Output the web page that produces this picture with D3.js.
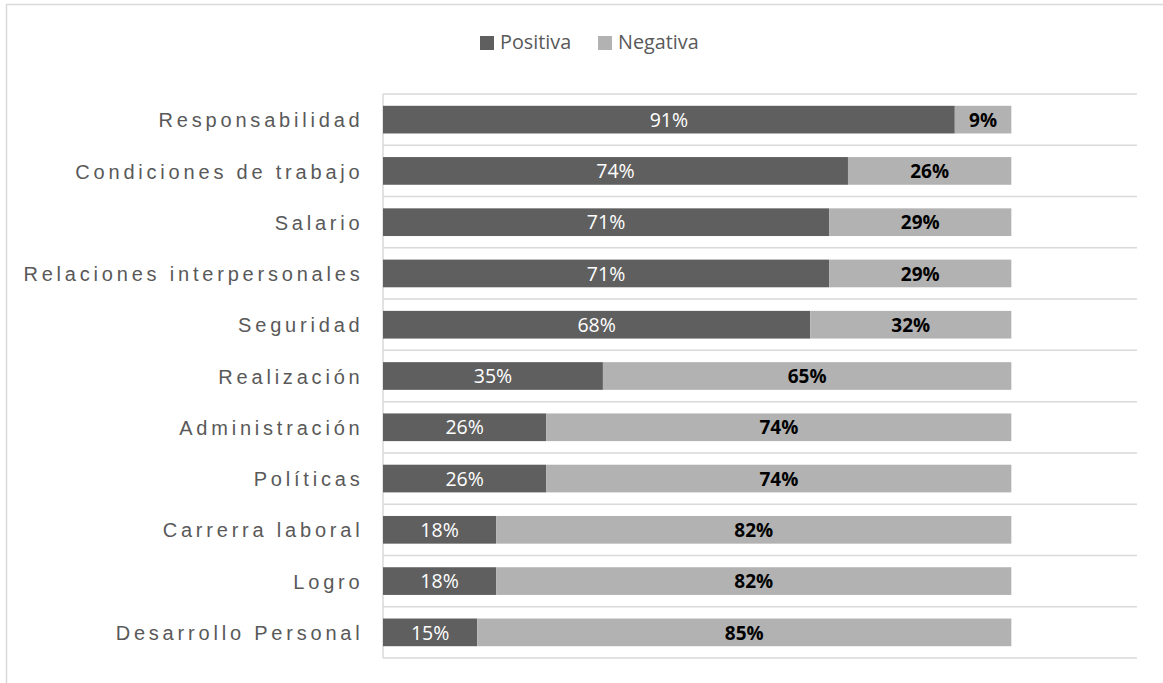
<!DOCTYPE html>
<html>
<head>
<meta charset="utf-8">
<script src="https://cdn.jsdelivr.net/npm/d3@7"></script>
<style>
  html, body { margin: 0; padding: 0; background: #fff; }
  svg { display: block; }
</style>
</head>
<body>
<svg id="chart" width="1163" height="683"></svg>
<script>
// Factores de motivación: percepción positiva vs. negativa
const categories = [
  "Responsabilidad",
  "Condiciones de trabajo",
  "Salario",
  "Relaciones interpersonales",
  "Seguridad",
  "Realización",
  "Administración",
  "Políticas",
  "Carrerra laboral",
  "Logro",
  "Desarrollo Personal"
];
const positiva = [91, 74, 71, 71, 68, 35, 26, 26, 18, 18, 15];
const negativa = [9, 26, 29, 29, 32, 65, 74, 74, 82, 82, 85];
const seriesNames = ["Positiva", "Negativa"];
const seriesColors = ["#5f5f5f", "#b2b2b2"];

const svg = d3.select("#chart");
const W = 1163, H = 683;

// outer chart frame
svg.append("rect")
  .attr("x", 6.5).attr("y", 4.5)
  .attr("width", W + 10).attr("height", H + 10)
  .attr("fill", "#fff").attr("stroke", "#d9d9d9").attr("stroke-width", 1.5);

const plot = { left: 383, right: 1137, top: 94, bottom: 658 };

const rows = categories.map((c, i) => ({ cat: c, Positiva: positiva[i] / 100, Negativa: negativa[i] / 100 }));
const stacked = d3.stack().keys(seriesNames)(rows);

const x = d3.scaleLinear().domain([0, 1.2]).range([plot.left, plot.right]);
const y = d3.scaleBand().domain(categories).range([plot.top, plot.bottom]).paddingInner(0.46).paddingOuter(0.23);
const color = d3.scaleOrdinal().domain(seriesNames).range(seriesColors);

// horizontal gridlines at category boundaries
const gridYs = d3.range(categories.length + 1).map(i => plot.top + i * (plot.bottom - plot.top) / categories.length);
svg.append("g").selectAll("line").data(gridYs).join("line")
  .attr("x1", plot.left).attr("x2", plot.right)
  .attr("y1", d => d).attr("y2", d => d)
  .attr("stroke", "#d9d9d9").attr("stroke-width", 1.5);

// category axis
const letterSpacing = 3.8;
const yAxis = svg.append("g")
  .attr("transform", `translate(${plot.left},0)`)
  .call(d3.axisLeft(y).tickSize(0).tickPadding(23.3 - letterSpacing));
yAxis.select(".domain").attr("stroke", "#d9d9d9").attr("stroke-width", 1.5)
  .attr("d", `M0,${plot.top}V${plot.bottom}`);
yAxis.selectAll("text")
  .attr("font-family", "'Liberation Sans', Arial, sans-serif")
  .attr("font-size", 20)
  .attr("letter-spacing", letterSpacing + "px")
  .attr("dy", "0.38em")
  .attr("fill", "#595959");

// stacked bars
const layers = svg.append("g").selectAll("g").data(stacked).join("g")
  .attr("fill", d => color(d.key));
layers.selectAll("rect").data(d => d).join("rect")
  .attr("x", d => x(d[0]))
  .attr("width", d => x(d[1]) - x(d[0]))
  .attr("y", d => y(d.data.cat))
  .attr("height", y.bandwidth());

// value labels
const labelFont = "'Open Sans', 'Noto Sans', sans-serif";
stacked.forEach((layer, li) => {
  svg.append("g").selectAll("text").data(layer).join("text")
    .attr("x", d => (x(d[0]) + x(d[1])) / 2)
    .attr("y", d => y(d.data.cat) + y.bandwidth() / 2 + 7.2)
    .attr("text-anchor", "middle")
    .attr("font-family", labelFont)
    .attr("font-size", li === 0 ? 19.5 : 19)
    .attr("font-weight", li === 0 ? "normal" : "bold")
    .attr("fill", li === 0 ? "#ffffff" : "#000000")
    .text(d => Math.round((d[1] - d[0]) * 100) + "%");
});

// legend
const legend = svg.append("g").attr("transform", "translate(480,36)");
const legendX = [0, 118];
seriesNames.forEach((name, i) => {
  const g = legend.append("g").attr("transform", `translate(${legendX[i]},0)`);
  g.append("rect").attr("x", 0).attr("y", 0).attr("width", 14).attr("height", 14).attr("fill", seriesColors[i]);
  g.append("text").attr("x", 20).attr("y", 13.2)
    .attr("font-family", labelFont).attr("font-size", 19.8).attr("fill", "#595959")
    .text(name);
});
</script>
</body>
</html>
